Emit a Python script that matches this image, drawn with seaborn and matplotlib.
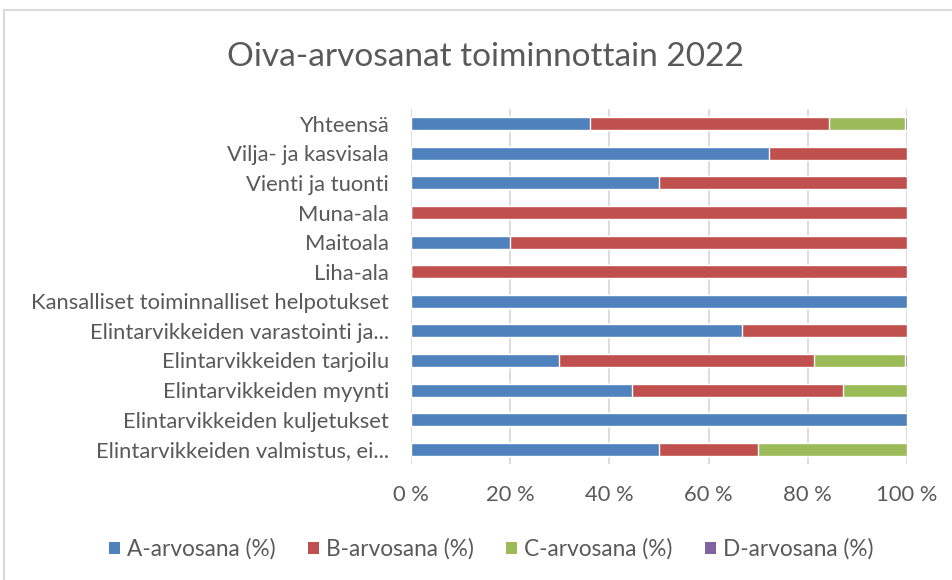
import pandas as pd
import seaborn as sns
import matplotlib.pyplot as plt
from matplotlib.patches import Patch, Rectangle
from matplotlib.ticker import FuncFormatter

# Categories top to bottom, grade shares in percent
categories = [
    'Yhteensä',
    'Vilja- ja kasvisala',
    'Vienti ja tuonti',
    'Muna-ala',
    'Maitoala',
    'Liha-ala',
    'Kansalliset toiminnalliset helpotukset',
    'Elintarvikkeiden varastointi ja...',
    'Elintarvikkeiden tarjoilu',
    'Elintarvikkeiden myynti',
    'Elintarvikkeiden kuljetukset',
    'Elintarvikkeiden valmistus, ei...',
]
a_grade = [36.1, 72.2, 50.0, 0, 20.0, 0, 100, 66.7, 29.8, 44.6, 100, 50.0]
b_grade = [48.2, 27.8, 50.0, 100, 80.0, 100, 0, 33.3, 51.4, 42.5, 0, 20.0]
c_grade = [15.4, 0, 0, 0, 0, 0, 0, 0, 18.5, 12.9, 0, 30.0]
d_grade = [0.3, 0, 0, 0, 0, 0, 0, 0, 0.3, 0, 0, 0]

series = ['A-arvosana (%)', 'B-arvosana (%)', 'C-arvosana (%)', 'D-arvosana (%)']
colors = ['#4F81BD', '#C0504D', '#9BBB59', '#8064A2']

df = pd.DataFrame({'toiminto': categories, series[0]: a_grade, series[1]: b_grade,
                   series[2]: c_grade, series[3]: d_grade})
# cumulative sums so the stacks can be drawn back to front
cum = df[series].cumsum(axis=1)
cum['toiminto'] = df['toiminto']

sns.set_style('white')
plt.rcParams['font.family'] = ['Lato', 'DejaVu Sans']
text_col = '#595959'

fig = plt.figure(figsize=(9.52, 5.8), dpi=100)
ax = fig.add_axes([0.4317, 0.2, 0.521, 0.612])

for name, col in reversed(list(zip(series, colors))):
    sns.barplot(data=cum, x=name, y='toiminto', order=categories, color=col,
                orient='h', width=0.44, ax=ax, zorder=3, saturation=1)

ax.set_xlim(0, 100)
ax.set_ylim(11.5, -0.5)
ax.set_xticks([0, 20, 40, 60, 80, 100])
ax.xaxis.set_major_formatter(FuncFormatter(lambda v, p: f'{int(v)} %'))
ax.grid(axis='x', color='#D9D9D9', linewidth=1.3, zorder=0)
ax.grid(axis='y', visible=False)
for s in ax.spines.values():
    s.set_visible(False)
ax.set_xlabel('')
ax.set_ylabel('')
ax.tick_params(axis='y', length=0, pad=16, labelsize=15.8, labelcolor=text_col)
ax.tick_params(axis='x', length=0, pad=15, labelsize=15.8, labelcolor=text_col)

fig.suptitle('Oiva-arvosanat toiminnottain 2022', x=0.51, y=0.902, va='center',
             fontsize=24, color=text_col)

handles = [Patch(facecolor=c, edgecolor='none') for c in colors]
fig.legend(handles, series, loc='center', bbox_to_anchor=(0.516, 0.053), ncol=4,
           frameon=False, fontsize=16.3, labelcolor=text_col, handlelength=0.5,
           handleheight=0.5, handletextpad=0.3, columnspacing=1.42)

# chart area frame
fig.patches.append(Rectangle((4 / 952, -0.1), 1.2, 1 - 10 / 580 + 0.1,
                             transform=fig.transFigure, fill=False,
                             edgecolor='#D9D9D9', linewidth=1.5))

fig.savefig('out.png', dpi=100)
